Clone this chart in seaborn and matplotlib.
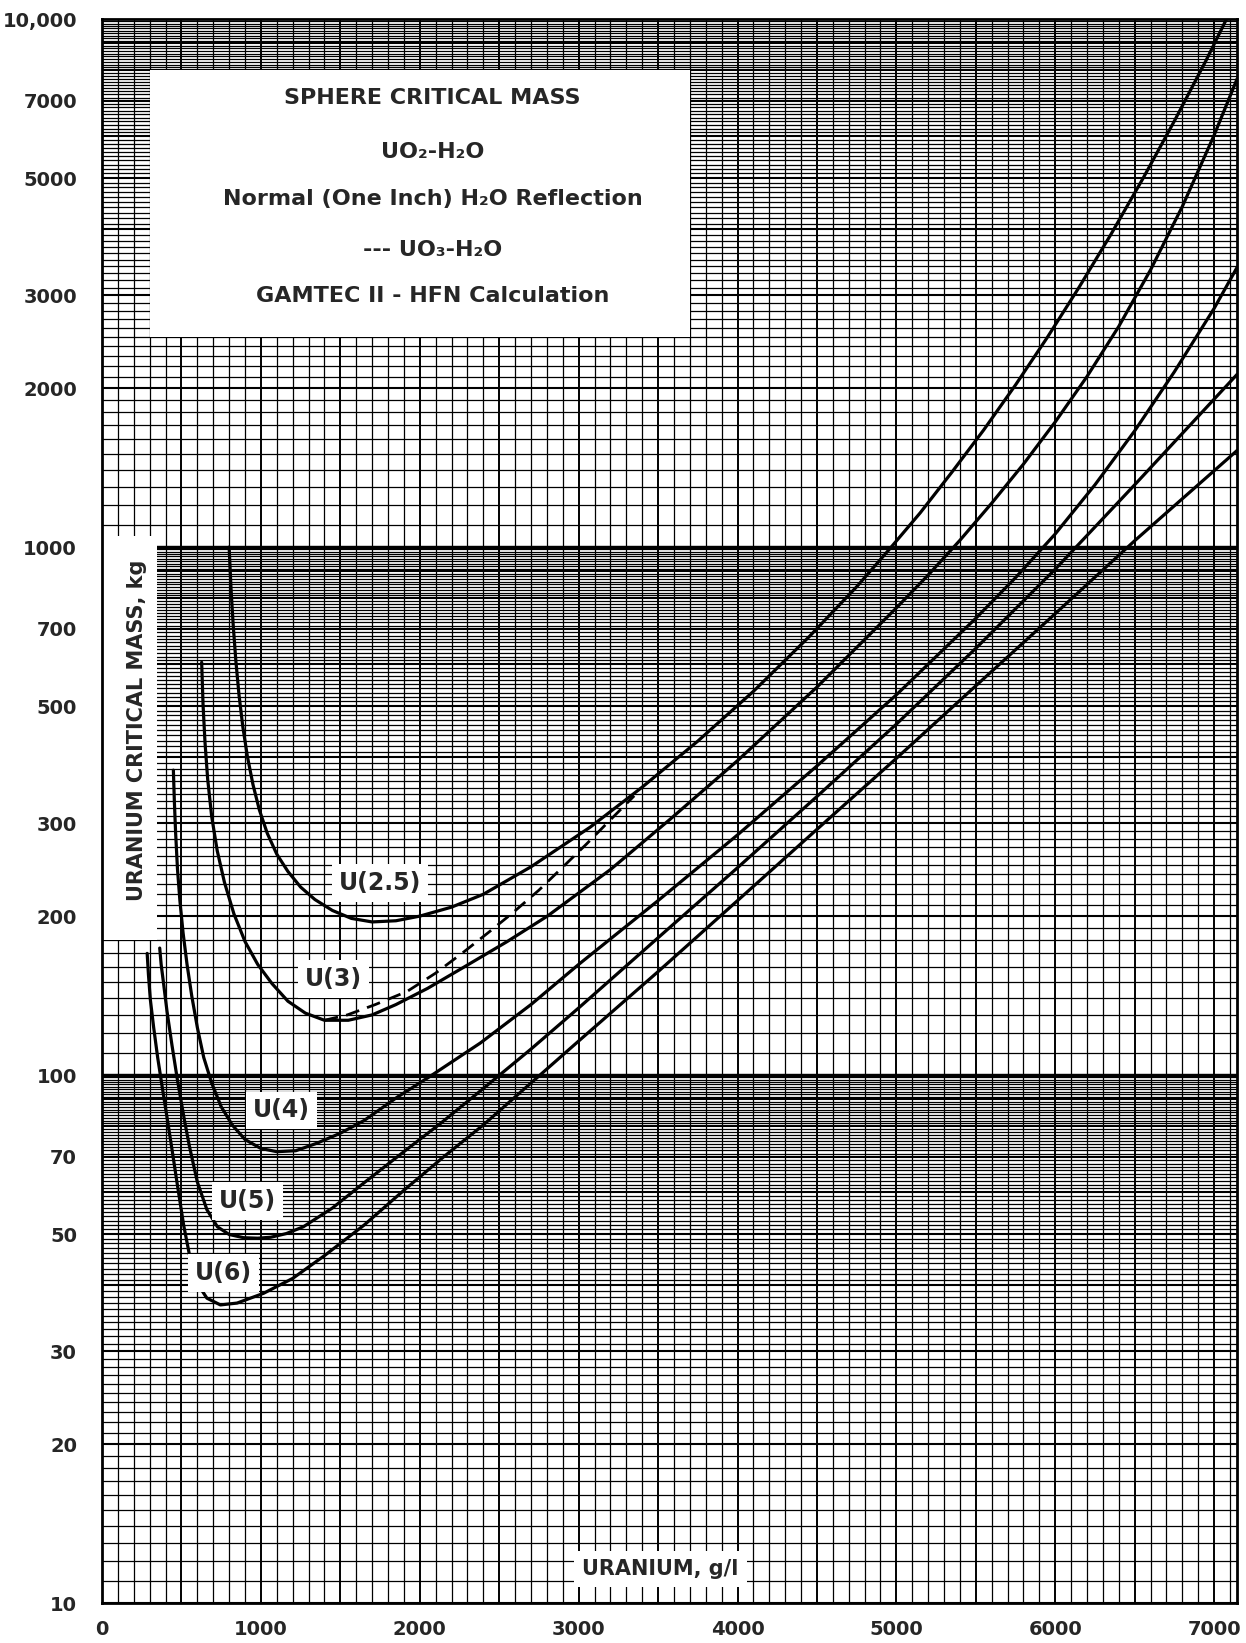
import matplotlib
matplotlib.use('Agg')
import matplotlib.pyplot as plt
from matplotlib.patches import Rectangle
from matplotlib.ticker import NullLocator
import numpy as np
import pandas as pd
import seaborn as sns

# ---- data (x = uranium g/l, y = critical mass kg) ----
u25_x = [800, 812, 826, 842, 862, 886, 915, 950, 990, 1040, 1100, 1170, 1250, 1340, 1450, 1570,
         1700, 1850, 2000, 2200, 2400, 2700, 3074, 3400, 3750, 4100, 4450, 4750, 4954, 5150,
         5350, 5550, 5750, 5950, 6150, 6350, 6550, 6750, 6950, 7078]
u25_y = [1000, 832, 708, 610, 525, 457, 401, 355, 318, 287, 262, 243, 227, 215, 205, 198,
         195, 196, 200, 208, 220, 248, 295, 351, 429, 533, 676, 841, 989, 1161,
         1387, 1667, 2028, 2495, 3105, 3908, 4977, 6412, 8356, 10000]

u3_x = [627, 636, 648, 665, 690, 725, 770, 830, 900, 980, 1070, 1170, 1280, 1400, 1550, 1700,
        1850, 2050, 2276, 2550, 2803, 3200, 3575, 4000, 4500, 5000, 5200, 5400, 5600, 5800,
        6000, 6200, 6400, 6600, 6800, 7000, 7145]
u3_y = [605, 501, 427, 363, 309, 266, 232, 202, 179, 162, 149, 138, 131, 127, 127, 130,
        136, 146, 160, 179, 200, 245, 305, 394, 543, 767, 885, 1030, 1211, 1436,
        1726, 2104, 2618, 3350, 4416, 6026, 7709]

uo3_x = [1400, 1544, 1720, 1920, 2100, 2276, 2430, 2586, 2750, 2902, 3050, 3179, 3350]
uo3_y = [127, 130, 136, 144, 156, 171, 186, 203, 224, 248, 274, 300, 338]

u4_x = [449, 455, 463, 475, 490, 510, 535, 565, 600, 640, 690, 750, 820, 900, 1000, 1100, 1220,
        1353, 1500, 1649, 1858, 2066, 2381, 2700, 3000, 3500, 4000, 4500, 5000, 5500, 5750,
        6000, 6250, 6500, 6750, 7000, 7145]
u4_y = [378, 331, 288, 245, 214, 186, 162, 141, 123, 108, 96.6, 87.1, 80.4, 75.5, 72.6, 71.6, 71.9,
        74.3, 77.6, 82, 90.8, 99.5, 115, 136, 162, 214, 285, 385, 525, 733, 875,
        1059, 1312, 1660, 2148, 2831, 3388]

u5_x = [363, 372, 385, 409, 440, 475, 495, 520, 550, 600, 660, 726, 800, 891, 980, 1062, 1160,
        1267, 1450, 1649, 1900, 2131, 2381, 2700, 3000, 3500, 4000, 4500, 5000, 5500, 6000,
        6500, 7145]
u5_y = [174, 162, 151, 132, 114, 97.7, 90.2, 81.7, 73.3, 62.7, 55.6, 51.6, 49.9, 49.2, 49.1, 49.3, 50.1,
        51.6, 56, 62.5, 71.6, 81, 93.3, 112, 134, 182, 247, 337, 462, 643, 908,
        1312, 2124]

u6_x = [284, 292, 304, 325, 350, 380, 410, 440, 475, 514, 555, 600, 660, 745, 850, 1016, 1200,
        1400, 1650, 1900, 2150, 2401, 3000, 3500, 4000, 4500, 5000, 5500, 6000, 6500, 7145]
u6_y = [170, 155, 139, 123, 108, 94.4, 82.8, 72.4, 61.7, 51.9, 44.9, 40.3, 37.8, 36.7, 37, 38.6, 41.2,
        45.5, 52, 60.5, 70, 80.5, 116, 157, 214, 292, 398, 546, 748, 1028, 1524]

curve_names = ['U(2.5)', 'U(3)', 'U(4)', 'U(5)', 'U(6)']
# label anchor positions (g/l, kg)
label_x = [1748, 1458, 1128, 917, 765]
label_y = [231, 152, 85.7, 57.8, 42.2]

x_ticks = [0, 1000, 2000, 3000, 4000, 5000, 6000, 7000]
y_ticks = [10, 20, 30, 50, 70, 100, 200, 300, 500, 700, 1000, 2000, 3000, 5000, 7000, 10000]
y_tick_labels = ['10', '20', '30', '50', '70', '100', '200', '300', '500', '700',
                 '1000', '2000', '3000', '5000', '7000', '10,000']

title_lines = ['SPHERE CRITICAL MASS', 'UO₂-H₂O', 'Normal (One Inch) H₂O Reflection',
               '--- UO₃-H₂O', 'GAMTEC II - HFN Calculation']
title_y = [7100, 5600, 4560, 3655, 2993]

# ---- style ----
sns.set_style('white')
plt.rcParams['font.family'] = ['DejaVu Sans']
plt.rcParams['font.weight'] = 'bold'

fig = plt.figure(figsize=(12.46, 16.43), dpi=100)
ax = fig.add_axes([0.0819, 0.0243, 0.911, 0.9641])
ax.set_yscale('log')
ax.set_xlim(0, 7145)
ax.set_ylim(10, 10000)

# graph paper
vx = np.arange(0, 7145, 100)
ax.vlines(vx[vx % 500 != 0], 10, 10000, color='black', lw=0.9, zorder=1)
ax.vlines(vx[vx % 500 == 0], 10, 10000, color='black', lw=1.4, zorder=1)
for d in (10, 100, 1000):
    hy = d * np.arange(10, 100) / 10
    heavy = hy[np.isclose(hy % d, 0)]
    light = hy[~np.isclose(hy % d, 0)]
    ax.hlines(light, 0, 7145, color='black', lw=0.9, zorder=1)
    ax.hlines(heavy, 0, 7145, color='black', lw=1.5, zorder=1)
ax.hlines([100, 1000], 0, 7145, color='black', lw=2.4, zorder=1)

# white panels
ax.add_patch(Rectangle((300, 2500), 3400, 5500, facecolor='white', edgecolor='none', zorder=2))
ax.add_patch(Rectangle((0, 180), 345, 870, facecolor='white', edgecolor='none', zorder=2))

# curves
curves = [(u25_x, u25_y), (u3_x, u3_y), (u4_x, u4_y), (u5_x, u5_y), (u6_x, u6_y)]
for (cx, cy), name in zip(curves, curve_names):
    df = pd.DataFrame({'x': cx, 'y': cy})
    sns.lineplot(data=df, x='x', y='y', ax=ax, color='black', lw=2.3,
                 sort=False, estimator=None, zorder=3)
df = pd.DataFrame({'x': uo3_x, 'y': uo3_y})
sns.lineplot(data=df, x='x', y='y', ax=ax, color='black', lw=2.0,
             sort=False, estimator=None, zorder=3, dashes=False, linestyle=(0, (5, 3)))

# curve labels
for name, lx, ly in zip(curve_names, label_x, label_y):
    ax.text(lx, ly, name, ha='center', va='center', fontsize=17, fontweight='bold', zorder=5,
            bbox=dict(facecolor='white', edgecolor='none', pad=5))

# title block
for line, ty in zip(title_lines, title_y):
    ax.text(2080, ty, line, ha='center', va='center', fontsize=16, fontweight='bold', zorder=5)

ax.text(218, 450, 'URANIUM CRITICAL MASS, kg', rotation=90, ha='center', va='center',
        fontsize=15, fontweight='bold', zorder=5)
ax.text(3516, 11.6, 'URANIUM, g/l', ha='center', va='center', fontsize=15, fontweight='bold',
        zorder=5, bbox=dict(facecolor='white', edgecolor='none', pad=6))

ax.set_xlabel('')
ax.set_ylabel('')
ax.set_xticks(x_ticks)
ax.set_xticklabels([str(t) for t in x_ticks])
ax.set_yticks(y_ticks)
ax.set_yticklabels(y_tick_labels)
ax.yaxis.set_minor_locator(NullLocator())
ax.tick_params(axis='y', length=0, pad=18, labelsize=14)
ax.tick_params(axis='x', length=0, pad=12, labelsize=14)
for lab in ax.get_xticklabels() + ax.get_yticklabels():
    lab.set_fontweight('bold')
for sp in ax.spines.values():
    sp.set_color('black')
    sp.set_linewidth(2)

fig.savefig('out.png', dpi=100)
